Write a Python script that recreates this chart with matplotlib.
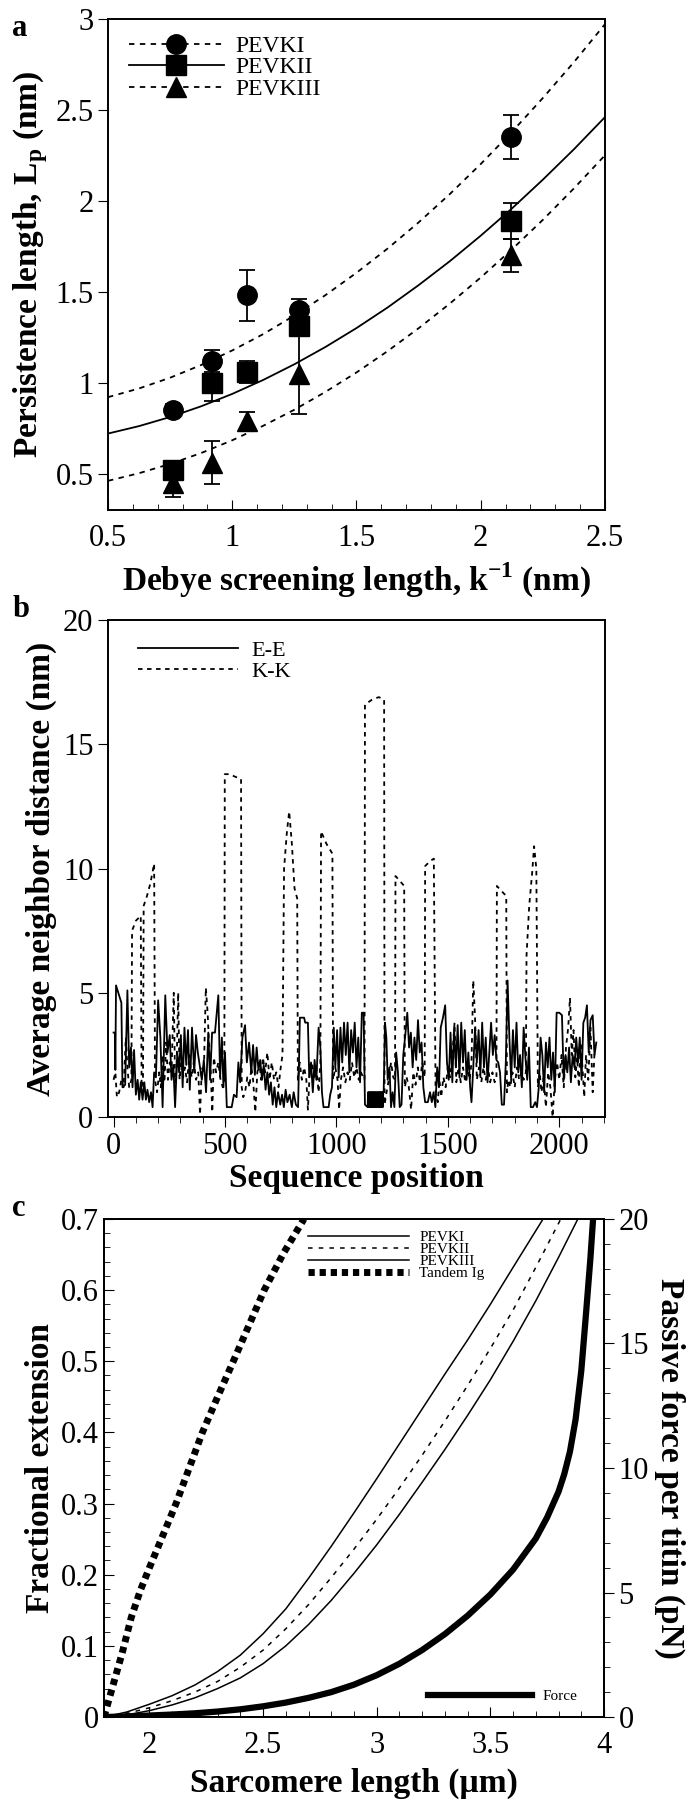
import numpy as np
import matplotlib
matplotlib.use("Agg")
import matplotlib.pyplot as plt
from matplotlib.lines import Line2D
from matplotlib.ticker import MultipleLocator

plt.rcParams['font.family'] = ['Liberation Serif', 'DejaVu Serif']
plt.rcParams['mathtext.fontset'] = 'custom'
plt.rcParams['mathtext.rm'] = 'Liberation Serif'
plt.rcParams['mathtext.bf'] = 'Liberation Serif:bold'
plt.rcParams['axes.linewidth'] = 1.4

# ---- panel a: persistence length vs Debye length
debye = [0.76, 0.92, 1.06, 1.27, 2.12]
lp1 = [0.85, 1.12, 1.48, 1.40, 2.35]
lp1_err = [0.03, 0.06, 0.14, 0.06, 0.12]
lp2 = [0.52, 1.00, 1.06, 1.31, 1.89]
lp2_err = [0.02, 0.10, 0.06, 0.04, 0.10]
lp3 = [0.45, 0.56, 0.79, 1.05, 1.70]
lp3_err = [0.08, 0.12, 0.05, 0.22, 0.09]

fit_x = [0.5, 0.625, 0.75, 0.875, 1.0, 1.125, 1.25, 1.375, 1.5, 1.625, 1.75, 1.875,
         2.0, 2.125, 2.25, 2.375, 2.5]
fit1 = [0.920, 0.968, 1.027, 1.097, 1.177, 1.267, 1.369, 1.481, 1.604, 1.737, 1.881,
        2.036, 2.202, 2.378, 2.565, 2.762, 2.971]
fit2 = [0.720, 0.761, 0.811, 0.870, 0.938, 1.015, 1.101, 1.196, 1.300, 1.413, 1.536,
        1.667, 1.808, 1.957, 2.116, 2.283, 2.460]
fit3 = [0.460, 0.502, 0.553, 0.613, 0.683, 0.763, 0.851, 0.949, 1.056, 1.173, 1.299,
        1.434, 1.578, 1.732, 1.895, 2.068, 2.250]

# ---- panel b: neighbour distances along the sequence
ee_pos = [0, 6, 8, 11, 25, 35, 40, 52, 62, 70, 78, 85, 92, 100, 108, 115, 122, 130, 138, 145,
          152, 160, 168, 175, 182, 190, 200, 210, 220, 232, 242, 252, 260, 268, 276, 286, 294, 302, 310, 318,
          326, 334, 342, 352, 362, 370, 378, 388, 396, 405, 415, 425, 433, 442, 455, 470, 478, 486, 493, 500,
          508, 530, 540, 552, 560, 568, 578, 590, 598, 608, 618, 626, 634, 642, 650, 658, 666, 674, 682, 690,
          698, 706, 714, 722, 730, 738, 748, 756, 764, 772, 780, 790, 800, 808, 818, 828, 836, 855, 860, 872,
          878, 886, 894, 902, 910, 920, 928, 935, 942, 955, 965, 972, 980, 988, 995, 1003, 1010, 1018, 1026, 1034,
          1042, 1050, 1058, 1066, 1074, 1082, 1090, 1098, 1106, 1114, 1122, 1128, 1140, 1142, 1144, 1146, 1148, 1150, 1152, 1154,
          1156, 1158, 1160, 1162, 1164, 1166, 1168, 1170, 1172, 1174, 1176, 1178, 1180, 1182, 1184, 1186, 1188, 1190, 1192, 1194,
          1196, 1198, 1200, 1202, 1204, 1206, 1208, 1210, 1212, 1218, 1224, 1230, 1238, 1245, 1252, 1260, 1268, 1276, 1284, 1292,
          1300, 1310, 1318, 1326, 1334, 1342, 1350, 1358, 1366, 1374, 1382, 1390, 1398, 1410, 1420, 1428, 1436, 1444, 1452, 1460,
          1468, 1478, 1488, 1496, 1504, 1512, 1520, 1528, 1536, 1544, 1552, 1560, 1568, 1576, 1584, 1592, 1600, 1606, 1614, 1622,
          1630, 1638, 1646, 1654, 1662, 1670, 1678, 1686, 1694, 1702, 1710, 1718, 1726, 1734, 1742, 1752, 1760, 1768, 1776, 1784,
          1792, 1800, 1808, 1816, 1824, 1832, 1840, 1848, 1856, 1864, 1872, 1882, 1892, 1900, 1908, 1916, 1924, 1932, 1940, 1948,
          1956, 1964, 1972, 1980, 1988, 2000, 2012, 2020, 2028, 2036, 2044, 2052, 2060, 2068, 2076, 2084, 2092, 2100, 2108, 2116,
          2124, 2132, 2140, 2150, 2158, 2166]
ee_val = [3.4, 3.4, 1.9, 5.3, 4.9, 4.6, 1.2, 1.3, 5.1, 2.0, 2.8, 1.2, 2.7, 0.9, 1.5, 0.7, 1.4, 0.7, 1.4, 0.7,
          1.1, 0.6, 1.0, 0.4, 1.8, 1.6, 4.7, 3.2, 0.4, 4.9, 2.6, 3.3, 1.5, 2.1, 0.4, 2.6, 1.8, 3.3, 1.2, 3.6,
          2.1, 3.5, 1.1, 3.6, 1.8, 3.3, 2.6, 2.0, 1.5, 2.3, 1.0, 3.4, 1.5, 3.4, 3.4, 4.9, 1.6, 3.2, 1.2, 2.6,
          0.4, 0.4, 0.9, 0.8, 2.2, 1.4, 3.2, 3.7, 2.2, 3.0, 1.8, 2.9, 1.7, 2.8, 1.9, 2.3, 1.5, 2.1, 1.1, 1.8,
          0.9, 1.4, 0.5, 1.2, 0.4, 1.0, 0.5, 0.9, 0.4, 1.1, 0.6, 0.9, 0.4, 1.0, 0.5, 0.4, 4.0, 4.0, 3.8, 3.8,
          1.6, 2.2, 1.0, 2.3, 1.5, 3.6, 2.8, 1.0, 0.4, 0.4, 0.4, 0.9, 1.2, 3.6, 2.0, 3.5, 1.6, 3.6, 2.2, 3.8,
          2.5, 3.8, 1.8, 3.5, 2.6, 3.8, 2.0, 3.2, 1.4, 4.2, 4.2, 0.5, 0.4, 1.0, 0.4, 1.0, 0.4, 1.0, 0.4, 1.0,
          0.4, 1.0, 0.4, 1.0, 0.4, 1.0, 0.4, 1.0, 0.4, 1.0, 0.4, 1.0, 0.4, 1.0, 0.4, 1.0, 0.4, 1.0, 0.4, 1.0,
          0.4, 1.0, 0.4, 1.0, 0.4, 1.0, 0.4, 1.0, 1.0, 3.8, 3.2, 1.5, 2.0, 0.4, 1.0, 0.4, 2.6, 1.8, 0.4, 0.5,
          2.5, 3.4, 4.2, 2.8, 3.4, 2.0, 3.2, 2.3, 3.9, 2.6, 3.0, 1.2, 0.6, 0.6, 1.0, 0.6, 1.0, 0.4, 2.0, 1.2,
          3.6, 4.0, 4.5, 2.2, 1.5, 3.4, 1.4, 3.6, 2.0, 3.7, 1.6, 3.8, 2.2, 3.5, 1.5, 2.6, 1.2, 0.6, 2.0, 3.6,
          2.2, 3.5, 1.7, 3.8, 2.0, 3.2, 1.4, 2.6, 3.8, 2.5, 3.3, 2.3, 2.2, 1.8, 0.5, 0.5, 2.2, 5.5, 3.2, 1.5,
          3.5, 2.0, 3.8, 1.8, 2.5, 1.2, 3.6, 2.4, 1.5, 2.8, 0.4, 0.4, 0.6, 0.4, 1.2, 3.2, 2.5, 1.0, 3.0, 2.0,
          3.2, 1.5, 2.6, 1.0, 4.2, 4.2, 4.1, 1.5, 2.5, 1.8, 2.8, 1.4, 2.5, 2.0, 3.2, 2.2, 3.2, 1.5, 3.8, 4.0,
          4.5, 2.6, 3.9, 4.1, 2.5, 3.0]

kk_pos = [0, 8, 15, 25, 35, 45, 55, 62, 70, 80, 83, 100, 122, 126, 132, 135, 150, 165, 182, 186,
          195, 205, 212, 220, 228, 236, 244, 252, 260, 270, 276, 282, 290, 296, 305, 312, 320, 330, 340, 350,
          360, 370, 380, 388, 396, 405, 414, 422, 428, 436, 443, 450, 460, 470, 480, 490, 497, 499, 520, 545,
          572, 575, 582, 590, 600, 610, 618, 626, 636, 645, 654, 662, 670, 680, 690, 700, 710, 720, 730, 740,
          750, 758, 765, 778, 788, 800, 812, 824, 827, 835, 845, 855, 865, 872, 880, 890, 900, 910, 920, 928,
          931, 955, 982, 985, 995, 1005, 1012, 1020, 1030, 1040, 1050, 1060, 1070, 1080, 1090, 1100, 1110, 1120, 1126, 1128,
          1160, 1190, 1214, 1216, 1225, 1235, 1245, 1255, 1263, 1265, 1285, 1304, 1307, 1315, 1325, 1335, 1345, 1355, 1365, 1375,
          1385, 1396, 1398, 1420, 1437, 1445, 1455, 1462, 1470, 1480, 1490, 1500, 1510, 1520, 1530, 1538, 1548, 1558, 1568, 1578,
          1588, 1598, 1606, 1614, 1622, 1630, 1640, 1650, 1660, 1670, 1680, 1690, 1700, 1710, 1718, 1720, 1740, 1762, 1765, 1772,
          1780, 1790, 1800, 1810, 1820, 1830, 1840, 1850, 1853, 1865, 1878, 1887, 1897, 1904, 1912, 1920, 1930, 1940, 1950, 1960,
          1970, 1980, 1990, 2000, 2010, 2020, 2030, 2040, 2048, 2056, 2064, 2072, 2080, 2088, 2096, 2104, 2112, 2120, 2130, 2140,
          2150, 2160]
kk_val = [1.5, 1.8, 0.8, 1.0, 1.5, 1.2, 3.2, 2.0, 1.2, 1.5, 7.5, 7.9, 8.1, 1.0, 1.2, 8.5, 8.9, 9.4, 10.2, 1.5,
          1.0, 1.8, 1.2, 2.5, 1.4, 3.0, 1.5, 2.2, 1.8, 5.0, 1.4, 1.8, 5.0, 1.5, 2.4, 1.6, 2.0, 1.4, 2.5, 1.6,
          2.2, 1.5, 1.8, 0.1, 2.0, 1.8, 5.2, 4.2, 3.0, 1.8, 0.2, 2.4, 1.8, 2.2, 1.5, 1.2, 1.5, 13.8, 13.8, 13.7,
          13.6, 1.2, 0.8, 1.0, 1.6, 1.2, 2.0, 1.5, 0.2, 1.8, 2.2, 1.5, 2.4, 1.8, 2.6, 1.5, 2.2, 1.5, 1.8, 1.2,
          2.0, 2.5, 10.0, 11.5, 12.3, 11.0, 9.2, 8.8, 1.5, 2.2, 1.5, 2.0, 1.5, 0.3, 1.8, 2.2, 1.5, 2.0, 1.0, 2.2,
          11.5, 11.0, 10.6, 1.5, 2.0, 1.5, 0.3, 1.5, 2.0, 1.4, 1.8, 1.5, 2.2, 1.6, 2.0, 1.5, 1.8, 1.6, 1.5, 16.6,
          16.8, 16.9, 16.8, 0.5, 1.0, 1.5, 2.2, 1.6, 1.5, 9.7, 9.5, 9.3, 1.2, 1.6, 1.2, 0.3, 1.8, 1.3, 2.0, 1.4,
          2.2, 1.6, 10.1, 10.3, 10.4, 1.0, 0.6, 1.5, 0.8, 1.6, 1.2, 2.0, 1.6, 2.4, 3.8, 1.4, 2.0, 1.4, 2.0, 1.4,
          2.0, 1.5, 2.2, 5.5, 4.0, 1.5, 2.0, 1.4, 2.0, 1.5, 2.0, 1.4, 1.8, 1.4, 1.6, 9.3, 9.1, 8.9, 1.0, 1.5,
          1.2, 1.8, 1.2, 2.0, 1.5, 1.8, 1.5, 1.8, 6.5, 8.5, 9.8, 10.9, 10.0, 1.2, 1.8, 1.0, 1.6, 0.4, 1.8, 1.2,
          0.0, 1.5, 2.2, 1.5, 2.5, 1.2, 2.8, 3.6, 4.8, 2.5, 3.5, 1.6, 2.4, 1.2, 3.0, 2.0, 0.8, 2.5, 1.5, 3.6,
          1.0, 3.0]

# ---- panel c: fractional extension and passive force vs sarcomere length
sl_pevk1 = [1.8, 1.9, 2.0, 2.1, 2.2, 2.3, 2.4, 2.5, 2.6, 2.7, 2.8, 2.9, 3.0, 3.1, 3.2,
            3.3, 3.4, 3.5, 3.6, 3.732]
ext_pevk1 = [0.0, 0.007, 0.018, 0.030, 0.045, 0.064, 0.087, 0.117, 0.152, 0.195, 0.240,
             0.287, 0.335, 0.384, 0.433, 0.482, 0.530, 0.580, 0.632, 0.700]
sl_pevk2 = [1.8, 1.9, 2.0, 2.1, 2.2, 2.3, 2.4, 2.5, 2.6, 2.7, 2.8, 2.9, 3.0, 3.1, 3.2,
            3.3, 3.4, 3.5, 3.6, 3.7, 3.81]
ext_pevk2 = [0.0, 0.005, 0.013, 0.023, 0.035, 0.050, 0.070, 0.094, 0.124, 0.158, 0.196,
             0.236, 0.278, 0.322, 0.368, 0.416, 0.466, 0.518, 0.572, 0.632, 0.700]
sl_pevk3 = [1.8, 1.9, 2.0, 2.1, 2.2, 2.3, 2.4, 2.5, 2.6, 2.7, 2.8, 2.9, 3.0, 3.1, 3.2,
            3.3, 3.4, 3.5, 3.6, 3.7, 3.8, 3.885]
ext_pevk3 = [0.0, 0.003, 0.009, 0.017, 0.027, 0.040, 0.055, 0.075, 0.100, 0.130, 0.164,
             0.202, 0.242, 0.285, 0.330, 0.376, 0.424, 0.474, 0.528, 0.585, 0.646, 0.700]
sl_ig = [1.8, 1.84, 1.88, 1.92, 1.96, 2.0, 2.06, 2.117, 2.175, 2.233, 2.30, 2.369,
         2.437, 2.505, 2.59, 2.68]
ext_ig = [0.0, 0.045, 0.09, 0.14, 0.178, 0.21, 0.256, 0.30, 0.35, 0.40, 0.45, 0.50,
          0.55, 0.60, 0.652, 0.70]
sl_force = [1.8, 1.9, 2.0, 2.1, 2.2, 2.3, 2.4, 2.5, 2.6, 2.7, 2.8, 2.9, 3.0, 3.1, 3.2,
            3.3, 3.4, 3.5, 3.6, 3.7, 3.75, 3.8, 3.825, 3.85, 3.875, 3.9, 3.92, 3.94, 3.952]
force = [0.0, 0.025, 0.06, 0.10, 0.15, 0.22, 0.31, 0.43, 0.58, 0.77, 1.0, 1.3, 1.68,
         2.14, 2.69, 3.33, 4.07, 4.92, 5.92, 7.17, 8.02, 9.05, 9.75, 10.65, 11.95, 13.9,
         16.1, 18.4, 20.0]

TICK = 22
LAB = 24

fig = plt.figure(figsize=(6.91, 18.0), dpi=100)

# ================= a
ax = fig.add_axes([0.1563, 0.7167, 0.7192, 0.2728])
ax.plot(fit_x, fit1, color='k', lw=1.3, dashes=(3, 3))
ax.plot(fit_x, fit2, color='k', lw=1.3)
ax.plot(fit_x, fit3, color='k', lw=1.3, dashes=(3, 3))
for y, e, m in [(lp1, lp1_err, 'o'), (lp2, lp2_err, 's'), (lp3, lp3_err, '^')]:
    ax.errorbar(debye, y, yerr=e, fmt=m, color='k', ms=14, capsize=6,
                elinewidth=1.3, capthick=1.3)
ax.set_xlim(0.5, 2.5)
ax.set_ylim(0.3, 3.0)
ax.xaxis.set_minor_locator(MultipleLocator(0.1))
ax.set_xticks([0.5, 1, 1.5, 2, 2.5])
ax.set_xticklabels(['0.5', '1', '1.5', '2', '2.5'])
ax.set_yticks([0.5, 1, 1.5, 2, 2.5, 3])
ax.set_yticklabels(['0.5', '1', '1.5', '2', '2.5', '3'])
ax.tick_params(axis='x', which='both', direction='in', labelsize=TICK, pad=10)
ax.tick_params(axis='x', which='major', length=7)
ax.tick_params(axis='x', which='minor', length=4)
ax.tick_params(axis='y', direction='out', length=7, labelsize=TICK)
ax.set_xlabel(r'Debye screening length, k$^{\mathbf{-1}}$ (nm)', fontsize=LAB,
              fontweight='bold', labelpad=6)
ax.set_ylabel(r'Persistence length, L$_{\mathbf{p}}$ (nm)', fontsize=LAB,
              fontweight='bold', labelpad=4)
handles = [Line2D([], [], color='k', lw=1.3, dashes=(3, 3), marker='o', ms=14),
           Line2D([], [], color='k', lw=1.3, marker='s', ms=14),
           Line2D([], [], color='k', lw=1.3, dashes=(3, 3), marker='^', ms=14)]
ax.legend(handles, ['PEVKI', 'PEVKII', 'PEVKIII'], loc='upper left',
          bbox_to_anchor=(0.0, 1.01), frameon=False, fontsize=17,
          handlelength=4.0, labelspacing=0.0, handletextpad=0.5)
fig.text(0.018, 0.992, 'a', fontsize=22, fontweight='bold', va='top')

# ================= b
ax = fig.add_axes([0.1563, 0.3794, 0.7192, 0.2761])
ax.plot(ee_pos, ee_val, color='k', lw=1.3, label='E-E')
ax.plot(kk_pos, kk_val, color='k', lw=1.3, dashes=(2.5, 2.5), label='K-K')
ax.set_xlim(-25, 2205)
ax.set_ylim(0, 20)
ax.set_xticks([0, 500, 1000, 1500, 2000])
ax.xaxis.set_minor_locator(MultipleLocator(100))
ax.set_yticks([0, 5, 10, 15, 20])
ax.tick_params(axis='both', which='major', direction='out', length=7, labelsize=TICK)
ax.tick_params(axis='x', which='minor', direction='out', length=4)
ax.set_xlabel('Sequence position', fontsize=LAB, fontweight='bold', labelpad=2)
ax.set_ylabel('Average neighbor distance (nm)', fontsize=LAB, fontweight='bold', labelpad=4)
ax.legend(loc='upper left', bbox_to_anchor=(0.02, 0.999), frameon=False, fontsize=16,
          handlelength=4.5, labelspacing=0.0, handletextpad=0.6)
fig.text(0.018, 0.6695, 'b', fontsize=22, fontweight='bold', va='top')

# ================= c
ax = fig.add_axes([0.1505, 0.0461, 0.7236, 0.2767])
ax.plot(sl_pevk1, ext_pevk1, color='k', lw=1.1, label='PEVKI')
ax.plot(sl_pevk2, ext_pevk2, color='k', lw=1.1, dashes=(3, 4), label='PEVKII')
ax.plot(sl_pevk3, ext_pevk3, color='k', lw=1.1, label='PEVKIII')
ax.plot(sl_ig, ext_ig, color='k', lw=5, dashes=(0.9, 0.7), label='Tandem Ig')
ax.set_xlim(1.8, 4.0)
ax.set_ylim(0, 0.7)
ax.set_xticks([2, 2.5, 3, 3.5, 4])
ax.set_xticklabels(['2', '2.5', '3', '3.5', '4'])
ax.xaxis.set_minor_locator(MultipleLocator(0.1))
ax.set_yticks([0, 0.1, 0.2, 0.3, 0.4, 0.5, 0.6, 0.7])
ax.set_yticklabels(['0', '0.1', '0.2', '0.3', '0.4', '0.5', '0.6', '0.7'])
ax.yaxis.set_minor_locator(MultipleLocator(0.02))
ax.tick_params(axis='both', which='major', direction='in', length=7, labelsize=TICK)
ax.tick_params(axis='both', which='minor', direction='in', length=4)
ax.tick_params(axis='x', which='major', pad=10)
ax.set_xlabel('Sarcomere length (µm)', fontsize=LAB, fontweight='bold', labelpad=6)
ax.set_ylabel('Fractional extension', fontsize=LAB, fontweight='bold', labelpad=4)
ax.legend(loc='upper left', bbox_to_anchor=(0.38, 1.005), frameon=False, fontsize=11,
          handlelength=6.6, labelspacing=-0.1, handletextpad=0.7)

ax2 = ax.twinx()
ax2.plot(sl_force, force, color='k', lw=4.5, label='Force')
ax2.set_ylim(0, 20)
ax2.set_yticks([0, 5, 10, 15, 20])
ax2.yaxis.set_minor_locator(MultipleLocator(1))
ax2.tick_params(axis='y', which='major', direction='out', length=7, labelsize=TICK)
ax2.tick_params(axis='y', which='minor', direction='out', length=4)
ax2.set_ylabel('Passive force per titin (pN)', fontsize=LAB, fontweight='bold',
               rotation=270, labelpad=26)
ax2.legend(loc='lower right', bbox_to_anchor=(0.975, 0.0), frameon=False, fontsize=11,
           handlelength=6.8, handletextpad=0.7)
fig.text(0.018, 0.3365, 'c', fontsize=22, fontweight='bold', va='top')

fig.savefig('out.png', dpi=100)
